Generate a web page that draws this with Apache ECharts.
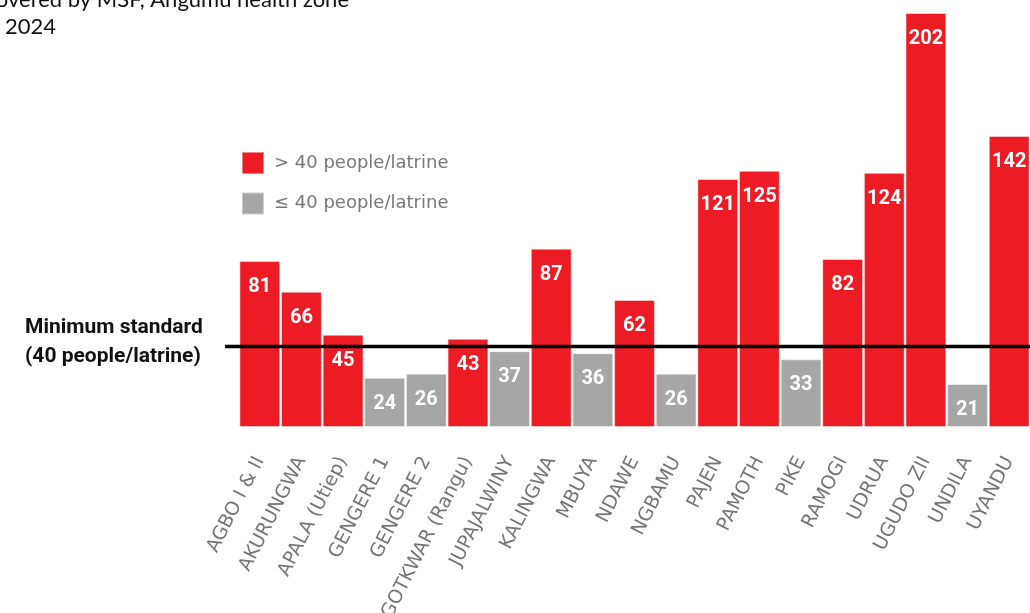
<!DOCTYPE html>
<html>
<head>
<meta charset="utf-8">
<script src="https://cdn.jsdelivr.net/npm/echarts@6/dist/echarts.min.js"></script>
<style>html,body{margin:0;padding:0;background:#fff}#c{width:1030px;height:613px}</style>
</head>
<body>
<div id="c"></div>
<script>
const categories = ['AGBO I & II','AKURUNGWA','APALA (Utiep)','GENGERE 1','GENGERE 2','GOTKWAR (Rangu)','JUPAJALWINY','KALINGWA','MBUYA','NDAWE','NGBAMU','PAJEN','PAMOTH','PIKE','RAMOGI','UDRUA','UGUDO ZII','UNDILA','UYANDU'];
const values = [81,66,45,24,26,43,37,87,36,62,26,121,125,33,82,124,202,21,142];
const threshold = 40;
const seriesNames = ['> 40 people/latrine', '≤ 40 people/latrine'];
const titleLine1 = 'covered by MSF, Angumu health zone';
const titleLine2 = '2024';
const standardLabel = ['Minimum standard', '(40 people/latrine)'];

const RED = '#ED1C24', GREY = '#A6A6A6';
const above = values.map(v => v > threshold ? v : '-');
const below = values.map(v => v > threshold ? '-' : v);

const chart = echarts.init(document.getElementById('c'));
const labelCfg = {
  show: true, position: 'insideTop', distance: 16,
  color: '#fff', fontSize: 20, fontWeight: 'bold', fontFamily: 'Roboto'
};
const opt = {
  animation: false,
  grid: { left: 239, right: 0, top: 13, bottom: 186, outerBoundsMode: 'none', containLabel: false },
  legend: {
    orient: 'vertical', left: 241, top: 151, padding: 0, itemWidth: 22, itemHeight: 22, itemGap: 16.5,
    icon: 'rect',
    textStyle: { color: '#777', fontSize: 18, fontFamily: 'DejaVu Sans', padding: [0,0,0,5] },
    data: seriesNames
  },
  xAxis: {
    type: 'category', data: categories,
    axisLine: { show: false }, axisTick: { show: false },
    axisLabel: { interval: 0, rotate: 63, margin: 31, padding: [20, 0, 0, 0], color: '#747474', fontSize: 19, fontFamily: 'DejaVu Sans' }
  },
  yAxis: { type: 'value', min: 0, max: 202, show: false, splitLine: { show: false } },
  series: [
    { name: seriesNames[0], type: 'bar', stack: 'a', data: above, barCategoryGap: '2%',
      itemStyle: { color: RED, borderColor: 'rgba(255,255,255,0.45)', borderWidth: 1 }, label: labelCfg },
    { name: seriesNames[1], type: 'bar', stack: 'a', data: below, barCategoryGap: '2%',
      itemStyle: { color: GREY, borderColor: 'rgba(255,255,255,0.45)', borderWidth: 1 }, label: labelCfg }
  ]
};
chart.setOption(opt);
const yLine = chart.convertToPixel({ yAxisIndex: 0 }, threshold) + 1.5;
chart.setOption({
  graphic: [
    { type: 'line', z: 100, shape: { x1: 225, y1: yLine, x2: 1030, y2: yLine }, style: { stroke: '#000', lineWidth: 3.5 } },
    { type: 'text', x: 25, y: yLine - 19, z: 100, style: { text: standardLabel[0], font: 'bold 21px Roboto', fill: '#111', verticalAlign: 'middle' } },
    { type: 'text', x: 25, y: yLine + 10, z: 100, style: { text: standardLabel[1], font: 'bold 21px Roboto', fill: '#111', verticalAlign: 'middle' } },
    { type: 'text', x: 349, y: 0, z: 100, style: { text: titleLine1, font: '22px Lato', fill: '#111', align: 'right', verticalAlign: 'middle' } },
    { type: 'text', x: 5, y: 27, z: 100, style: { text: titleLine2, font: '22px Lato', fill: '#111', align: 'left', verticalAlign: 'middle' } }
  ]
});
</script>
</body>
</html>
